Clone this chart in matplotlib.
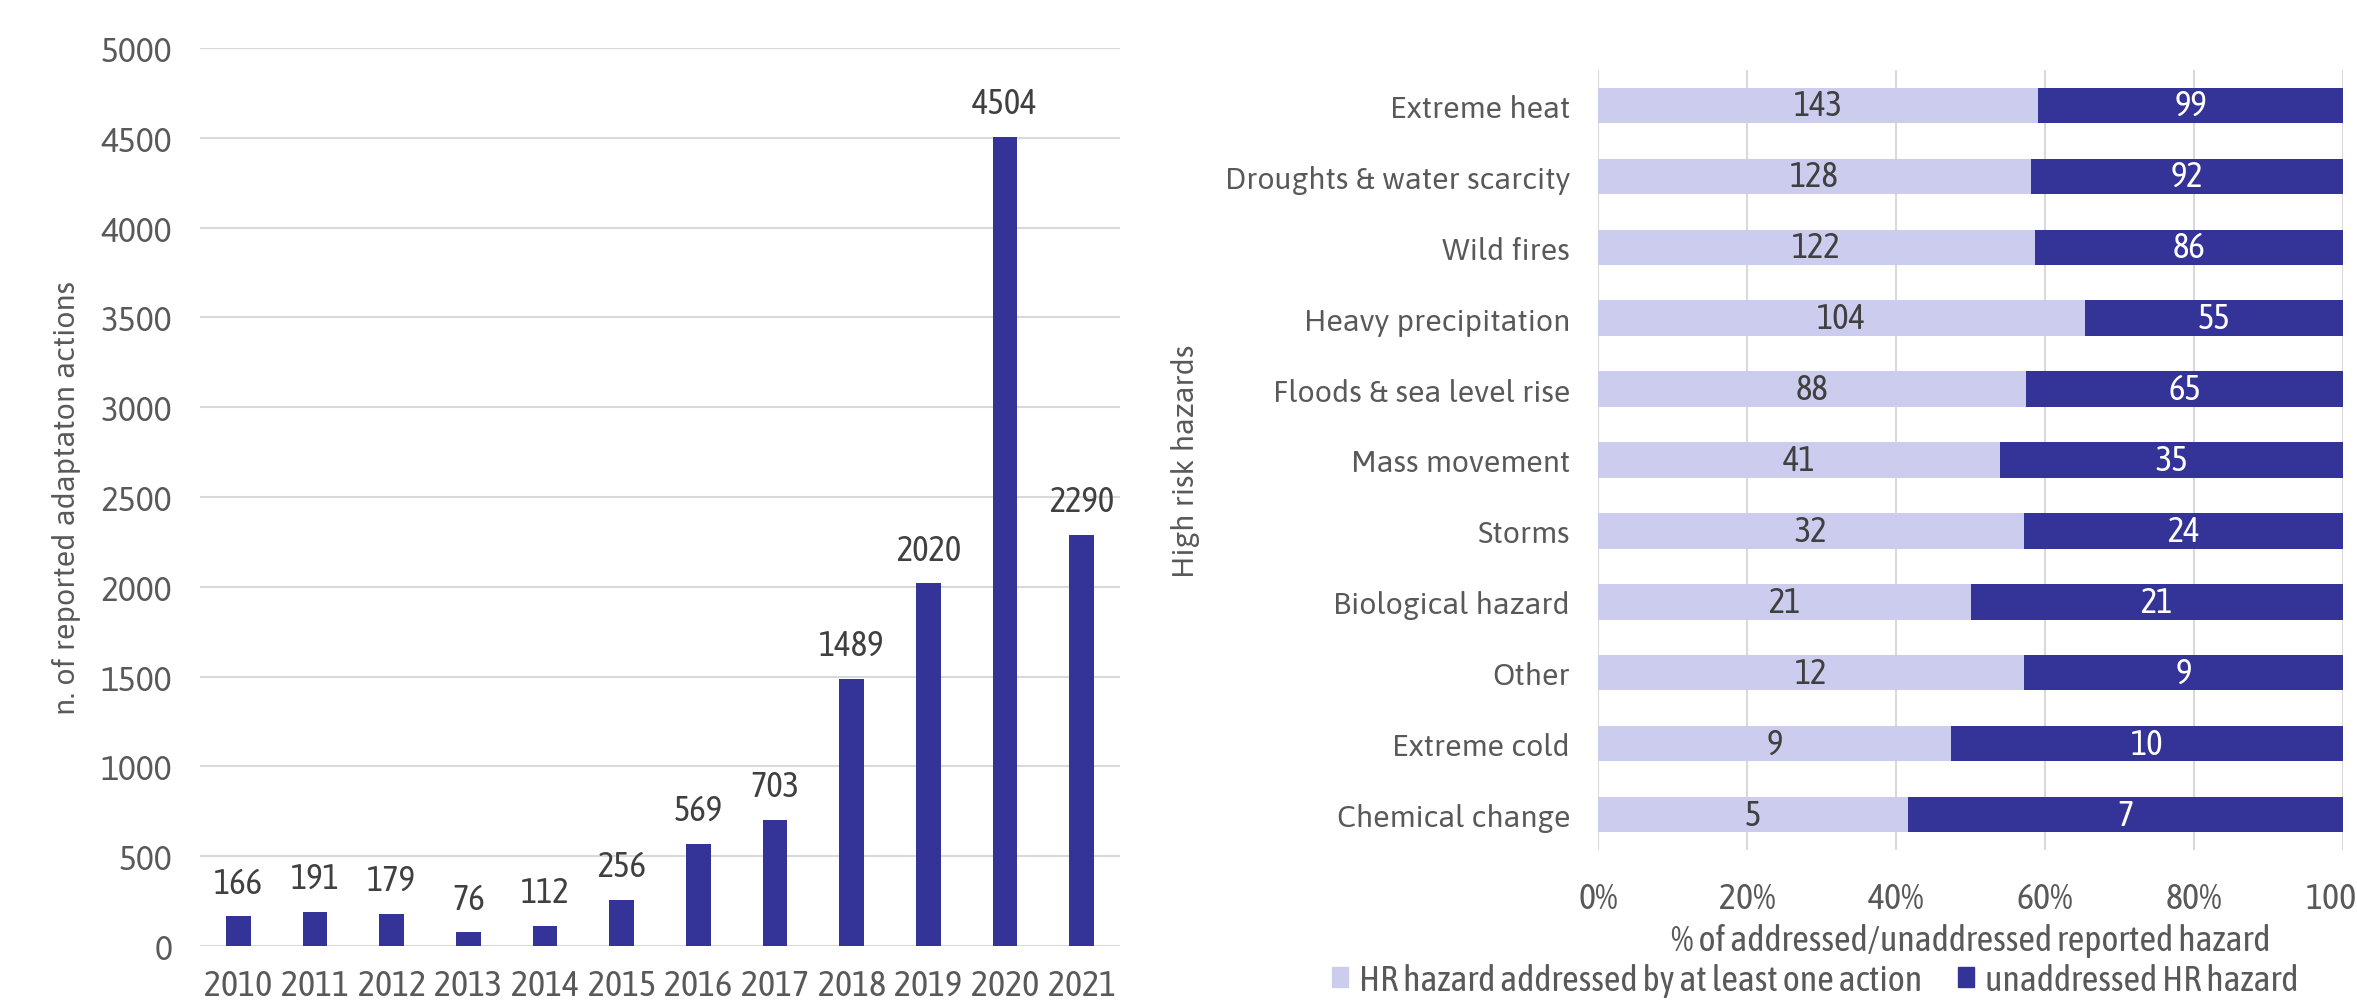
import matplotlib
matplotlib.use("Agg")
import matplotlib.pyplot as plt
from matplotlib.patches import Patch
import numpy as np

# left chart: reported adaptation actions per year
years = ["2010", "2011", "2012", "2013", "2014", "2015", "2016", "2017", "2018", "2019", "2020", "2021"]
actions = [166, 191, 179, 76, 112, 256, 569, 703, 1489, 2020, 4504, 2290]

# right chart: high risk hazards, addressed vs unaddressed
hazards = ["Extreme heat", "Droughts & water scarcity", "Wild fires", "Heavy precipitation",
           "Floods & sea level rise", "Mass movement", "Storms", "Biological hazard",
           "Other", "Extreme cold", "Chemical change"]
addressed = [143, 128, 122, 104, 88, 41, 32, 21, 12, 9, 5]
unaddressed = [99, 92, 86, 55, 65, 35, 24, 21, 9, 10, 7]
pct_ticks = [0, 20, 40, 60, 80, 100]

DARK = "#343398"
LIGHT = "#cccdee"
GRID = "#d9d9d9"
TXT = "#595959"
NUM = "#404040"
NARROW = ["Asap Condensed", "Liberation Sans", "DejaVu Sans"]
WIDE = ["Asap", "Liberation Sans", "DejaVu Sans"]

W, H = 2357, 1003
fig = plt.figure(figsize=(W / 100, H / 100), dpi=100)

# ---- left: bars per year
ax1 = fig.add_axes([200 / W, 1 - 947 / H, 920 / W, 898 / H])
x = np.arange(len(years))
ax1.bar(x, actions, width=0.32, color=DARK, zorder=3)
for xi, v in zip(x, actions):
    ax1.annotate(str(v), (xi, v), xytext=(0, 12), textcoords="offset points",
                 ha="center", va="bottom", fontsize=25, color=NUM, family=NARROW)
ax1.set_xlim(-0.5, len(years) - 0.5)
ax1.set_ylim(0, 5000)
ax1.set_yticks(range(0, 5001, 500))
ax1.set_xticks(x)
ax1.set_xticklabels(years, family=NARROW, fontsize=26, color=TXT)
for lab in ax1.get_yticklabels():
    lab.set_family(WIDE)
    lab.set_fontsize(24)
    lab.set_color(TXT)
ax1.grid(axis="y", color=GRID, linewidth=1.5, zorder=0)
ax1.tick_params(length=0)
ax1.tick_params(axis="y", pad=20)
ax1.tick_params(axis="x", pad=16)
for s in ax1.spines.values():
    s.set_visible(False)
ax1.set_ylabel("n. of reported adaptaton actions", fontsize=22, color=TXT,
               family=WIDE, labelpad=14)

# ---- right: stacked 100% bars
ax2 = fig.add_axes([1598 / W, 1 - 851 / H, 745 / W, 780 / H])
tot = np.array(addressed) + np.array(unaddressed)
p_add = np.array(addressed) / tot * 100
p_un = np.array(unaddressed) / tot * 100
y = np.arange(len(hazards))
ax2.barh(y, p_add, height=0.5, color=LIGHT, zorder=3,
         label="HR hazard addressed by at least one action")
ax2.barh(y, p_un, left=p_add, height=0.5, color=DARK, zorder=3,
         label="unaddressed HR hazard")
for yi, pa, pu, a, u in zip(y, p_add, p_un, addressed, unaddressed):
    ax2.text(pa / 2, yi, str(a), ha="center", va="center", fontsize=25,
             color=NUM, family=NARROW, zorder=4)
    ax2.text(pa + pu / 2, yi, str(u), ha="center", va="center", fontsize=25,
             color="white", family=NARROW, zorder=4)
ax2.set_ylim(len(hazards) - 0.5, -0.5)
ax2.set_xlim(0, 100)
ax2.set_xticks(pct_ticks)
ax2.set_xticklabels([f"{t}%" for t in pct_ticks], family=NARROW, fontsize=26, color=TXT)
ax2.set_yticks(y)
ax2.set_yticklabels(hazards, family=WIDE, fontsize=22, color=TXT)
ax2.grid(axis="x", color=GRID, linewidth=1.5, zorder=0)
ax2.tick_params(length=0)
ax2.tick_params(axis="y", pad=20)
ax2.tick_params(axis="x", pad=22)
for s in ax2.spines.values():
    s.set_visible(False)
ax2.set_xlabel("% of addressed/unaddressed reported hazard", fontsize=26,
               color=TXT, family=NARROW, labelpad=6)
ax2.set_ylabel("High risk hazards", fontsize=22, color=TXT, family=WIDE, labelpad=18)

handles = [Patch(color=LIGHT), Patch(color=DARK)]
fig.legend(handles, ["HR hazard addressed by at least one action", "unaddressed HR hazard"],
           loc="center", bbox_to_anchor=(1815 / W, 1 - 981 / H), ncol=2, frameon=False,
           prop={"family": NARROW, "size": 26}, labelcolor=TXT,
           handlelength=0.45, handleheight=0.45, handletextpad=0.3, columnspacing=1.0)

fig.savefig("out.png", dpi=100)
